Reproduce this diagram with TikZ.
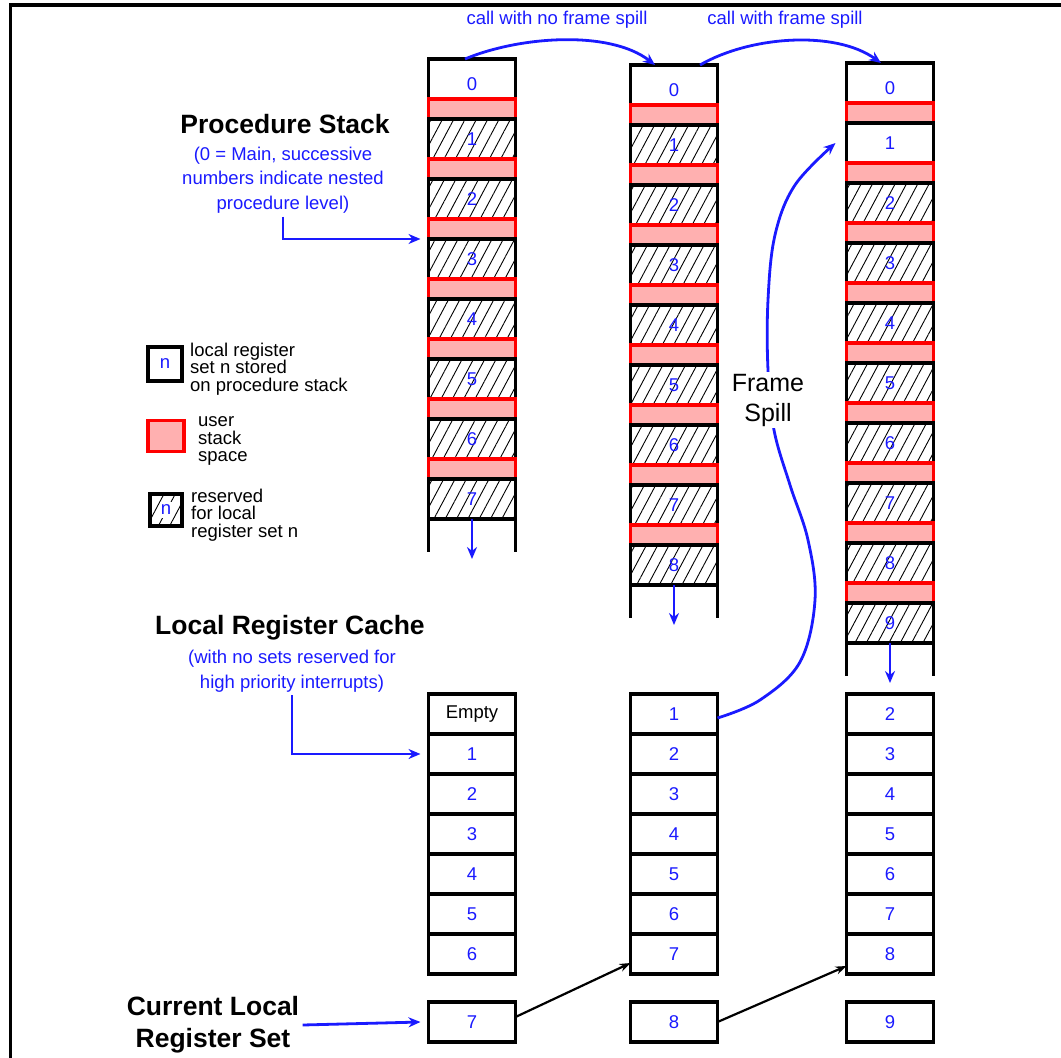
\documentclass[tikz,border=0pt]{standalone}
\usepackage{fontspec}
\setmainfont{Liberation Sans}
\usepackage{xcolor}
\definecolor{regblue}{HTML}{1A1AFF}
\definecolor{userpink}{HTML}{FFB0B0}
\usepackage{tikz}
\usetikzlibrary{positioning,arrows.meta,patterns.meta}

\begin{document}
\begin{tikzpicture}[x=1pt,y=-1pt,font=\fontsize{18.5}{17.5}\selectfont,
  cell/.style={draw,line width=3.3pt,minimum width=87pt,minimum height=40pt,inner sep=0pt,outer sep=0pt,text=regblue},
  hatched/.style={pattern={Lines[angle=62,distance=10pt,line width=0.9pt]}},
  band/.style={draw=red,line width=3.3pt,fill=userpink,minimum width=87pt,minimum height=20pt,inner sep=0pt,outer sep=0pt},
  wall/.style={line width=3.3pt},
  blueline/.style={draw=regblue,line width=2.8pt,-{Stealth[length=12pt,width=10pt]}},
  blackline/.style={line width=2.2pt,-{Stealth[length=11pt,width=8pt]}},
  heading/.style={font=\bfseries\fontsize{26.5}{32}\selectfont,align=center},
  note/.style={text=regblue,align=center,font=\fontsize{18.5}{24.5}\selectfont},
  legtext/.style={align=left,inner sep=0pt,yshift=-5pt}]
  \useasboundingbox (0,0) rectangle (1061,1058);
  \draw[line width=3.5pt] (10.5,1058) -- (10.5,5) -- (1061,5);

  % procedure stacks
  \node[cell] (s1-0) at (472,79) {\raisebox{-5pt}[\height][0pt]{0}};
  \foreach \i [remember=\i as \j (initially 0)] in {1,...,7} {
    \node[band,below=0pt of s1-\j] (s1-u\i) {};
    \node[cell,hatched,below=0pt of s1-u\i] (s1-\i) {\i};
  }
  \node[cell] (s2-0) at (674,85) {\raisebox{-5pt}[\height][0pt]{0}};
  \foreach \i [remember=\i as \j (initially 0)] in {1,...,8} {
    \node[band,below=0pt of s2-\j] (s2-u\i) {};
    \node[cell,hatched,below=0pt of s2-u\i] (s2-\i) {\i};
  }
  \node[cell] (s3-0) at (890,83) {\raisebox{-5pt}[\height][0pt]{0}};
  \node[band,below=0pt of s3-0] (s3-u1) {};
  \node[cell,below=0pt of s3-u1] (s3-1) {1};
  \foreach \i [remember=\i as \j (initially 1)] in {2,...,9} {
    \node[band,below=0pt of s3-\j] (s3-u\i) {};
    \node[cell,hatched,below=0pt of s3-u\i] (s3-\i) {\i};
  }
  \foreach \c/\n in {1/7,2/8,3/9} {
    \draw[wall] (s\c-\n.south west) -- ++(0,33);
    \draw[wall] (s\c-\n.south east) -- ++(0,33);
    \draw[blueline] (s\c-\n.south) -- ++(0,40);
  }

  % local register caches
  \node[cell,text=black] (k1-0) at (472,714) {Empty};
  \foreach \i [remember=\i as \j (initially 0)] in {1,...,6}
    \node[cell,below=0pt of k1-\j] (k1-\i) {\i};
  \node[cell] (k2-1) at (674,714) {1};
  \foreach \i [remember=\i as \j (initially 1)] in {2,...,7}
    \node[cell,below=0pt of k2-\j] (k2-\i) {\i};
  \node[cell] (k3-2) at (890,714) {2};
  \foreach \i [remember=\i as \j (initially 2)] in {3,...,8}
    \node[cell,below=0pt of k3-\j] (k3-\i) {\i};
  \foreach \c/\n/\x in {1/7/472,2/8/674,3/9/890}
    \node[cell] (cur\c) at (\x,1022) {\n};

  % legend
  \node[cell,minimum width=34pt,minimum height=34pt] (lg1) at (165,364) {n};
  \node[legtext,right=8pt of lg1] (lt1) {local register\\set n stored\\on procedure stack};
  \node[band,minimum width=36pt,minimum height=31pt] (lg2) at (166,436) {};
  \node[legtext,right=14pt of lg2] (lt2) {user\\stack\\space};
  \node[cell,hatched,minimum width=32pt,minimum height=32pt] (lg3) at (166,510) {\colorbox{white}{\kern-2pt n\kern-2pt}};
  \node[legtext,right=9pt of lg3] (lt3) {reserved\\for local\\register set n};

  % labels
  \node[heading] (pstack) at (285,124) {Procedure Stack};
  \node[note] (pnote) at (283,180) {(0 = Main, successive\\numbers indicate nested\\procedure level)};
  \node[heading] (lcache) at (290,628) {Local Register Cache};
  \node[note] (knote) at (292,671) {(with no sets reserved for\\high priority interrupts)};
  \node[heading] (clabel) at (213,1025) {Current Local\\Register Set};
  \node[note] (call1) at (557,20) {call with no frame spill};
  \node[note] (call2) at (785,20) {call with frame spill};

  \draw[blueline] (pnote.south) |- ([xshift=-8pt]s1-3.north west);
  \draw[blueline] (knote.south) |- ([xshift=-8pt]k1-1.west);
  \draw[blueline] (clabel.east) -- ([xshift=-8pt]cur1.west);

  % calls
  \draw[blueline] ([xshift=-7pt]s1-0.north) .. controls (520,36) and (610,30) .. ([xshift=-19pt]s2-0.north);
  \draw[blueline] ([xshift=26pt]s2-0.north) .. controls (750,36) and (835,30) .. ([xshift=-9pt]s3-0.north);
  \draw[blueline] plot[smooth,tension=0.6] coordinates {([yshift=-4pt]k2-1.east) (760,700) (800,662) (815,600)
    (808,540) (790,485) (774,430) (768,370) (768,300) (775,235) (795,185) ([xshift=-11pt]s3-1.west)};
  \node[font=\fontsize{25}{30}\selectfont,fill=white,align=center,inner sep=2pt] (spill) at (768,400) {Frame\\Spill};

  \draw[blackline] ([yshift=5pt]cur1.east) -- ([yshift=-9pt]k2-7.west);
  \draw[blackline] (cur2.east) -- ([yshift=-12pt]k3-8.west);
\end{tikzpicture}
\end{document}
